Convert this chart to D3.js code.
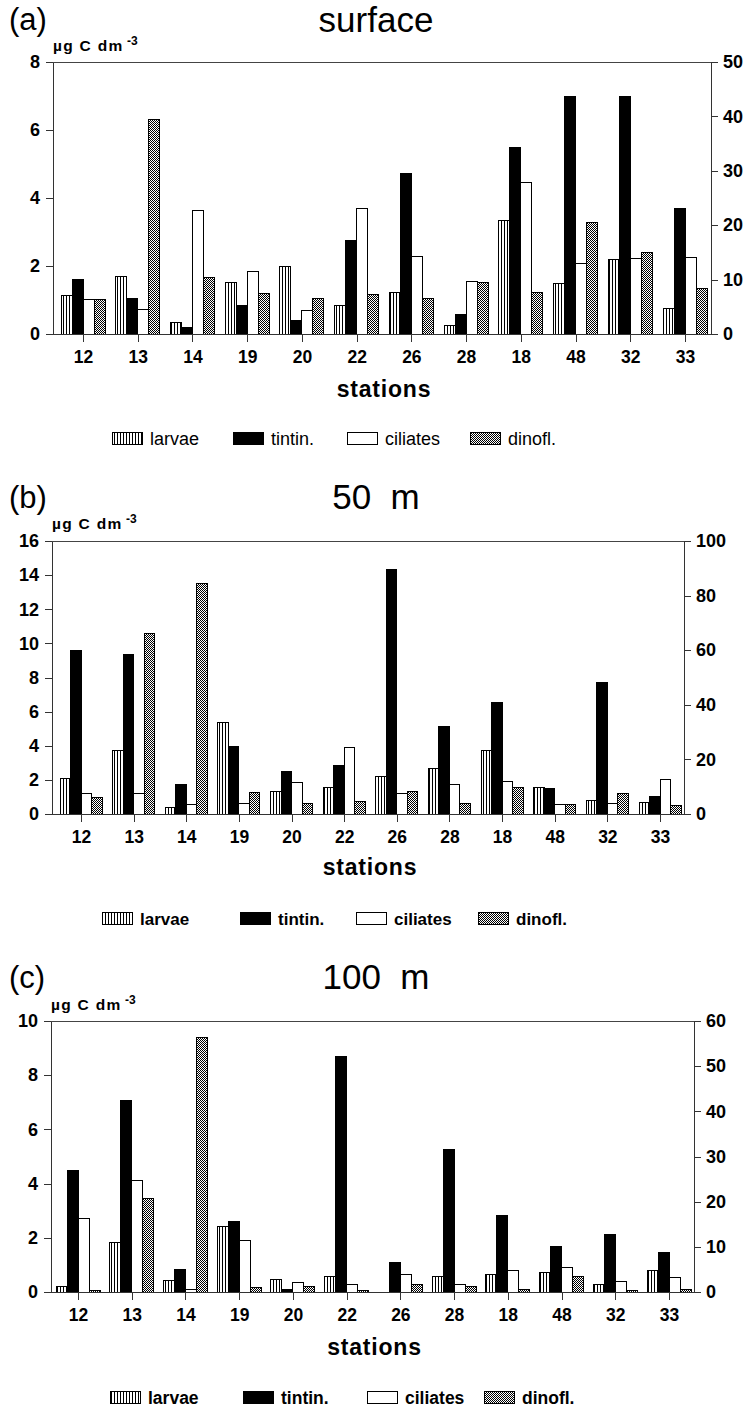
<!DOCTYPE html>
<html><head><meta charset="utf-8">
<script src="https://cdn.jsdelivr.net/npm/d3@7"></script>
<style>
body{margin:0;background:#fff}
svg{display:block}
text{font-family:"Liberation Sans",Arial,Helvetica,sans-serif;fill:#000}
</style>
</head><body>
<svg id="chart" width="754" height="1414"></svg>
<script>
// ---------- data ----------
const stations = ["12","13","14","19","20","22","26","28","18","48","32","33"];
const seriesNames = ["larvae","tintin.","ciliates","dinofl."];

// surface (larvae, ciliates, dinofl. on left axis; tintinnids on right axis)
const surfLarvae   = [1.12,1.69,0.35,1.51,1.99,0.85,1.21,0.25,3.34,1.50,2.19,0.75];
const surfTintin   = [10.0,6.5,1.25,5.25,2.56,17.2,29.5,3.6,34.2,43.6,43.75,23.0];
const surfCiliates = [1.01,0.71,3.63,1.83,0.69,3.70,2.27,1.53,4.47,2.07,2.22,2.24];
const surfDinofl   = [1.01,6.31,1.67,1.18,1.03,1.15,1.04,1.51,1.22,3.27,2.39,1.33];
const surfLeftTicks  = [0,2,4,6,8];
const surfRightTicks = [0,10,20,30,40,50];

// 50 m
const m50Larvae   = [2.07,3.73,0.37,5.39,1.31,1.58,2.17,2.64,3.71,1.58,0.80,0.66];
const m50Tintin   = [59.9,58.6,10.7,24.9,15.6,17.8,89.5,32.0,41.0,9.2,48.2,6.5];
const m50Ciliates = [1.19,1.23,0.55,0.60,1.84,3.91,1.23,1.72,1.93,0.55,0.63,2.03];
const m50Dinofl   = [0.94,10.57,13.5,1.25,0.64,0.76,1.33,0.61,1.54,0.57,1.23,0.47];
const m50LeftTicks  = [0,2,4,6,8,10,12,14,16];
const m50RightTicks = [0,20,40,60,80,100];

// 100 m
const m100Larvae   = [0.20,1.84,0.44,2.43,0.47,0.58,0,0.58,0.66,0.71,0.28,0.80];
const m100Tintin   = [26.9,42.5,4.9,15.5,0.5,52.2,6.6,31.6,16.9,10.0,12.7,8.7];
const m100Ciliates = [2.71,4.11,0.10,1.91,0.34,0.29,0.66,0.29,0.81,0.90,0.38,0.53];
const m100Dinofl   = [0.07,3.45,9.39,0.17,0.22,0.04,0.28,0.20,0.09,0.56,0.05,0.09];
const m100LeftTicks  = [0,2,4,6,8,10];
const m100RightTicks = [0,10,20,30,40,50,60];

// ---------- layout ----------
const panels = [
  {tag:"(a)", title:"surface", data:[surfLarvae,surfTintin,surfCiliates,surfDinofl],
   lt:surfLeftTicks, rt:surfRightTicks,
   L:53,R:711,T:62,B:334,c0:83,c1:685,bw:11,
   tagY:30,titleY:32,unitY:51,statY:397,legY:438,legX:[112,233,347,470],legW:"normal",legF:18},
  {tag:"(b)", title:"50  m", data:[m50Larvae,m50Tintin,m50Ciliates,m50Dinofl],
   lt:m50LeftTicks, rt:m50RightTicks,
   L:52,R:684,T:541,B:814,c0:81,c1:660,bw:10.5,
   tagY:508,titleY:509,unitY:529,statY:875,legY:918,legX:[102,240,356,478],legW:"bold",legF:17},
  {tag:"(c)", title:"100  m", data:[m100Larvae,m100Tintin,m100Ciliates,m100Dinofl],
   lt:m100LeftTicks, rt:m100RightTicks,
   L:51,R:694,T:1021,B:1292,c0:78,c1:669,bw:11,
   tagY:988,titleY:989,unitY:1010,statY:1355,legY:1397,legX:[110,243,367,484],legW:"bold",legF:17.5}
];

const svg = d3.select("#chart");
const defs = svg.append("defs");
const ps = defs.append("pattern").attr("id","stripes").attr("patternUnits","userSpaceOnUse")
  .attr("width",3).attr("height",10);
ps.append("rect").attr("width",3).attr("height",10).attr("fill","#fff");
ps.append("rect").attr("width",1).attr("height",10).attr("fill","#000");
const pc = defs.append("pattern").attr("id","checker").attr("patternUnits","userSpaceOnUse")
  .attr("width",2).attr("height",2);
pc.append("rect").attr("width",2).attr("height",2).attr("fill","#fff");
pc.append("rect").attr("width",1).attr("height",1).attr("fill","#000");
pc.append("rect").attr("x",1).attr("y",1).attr("width",1).attr("height",1).attr("fill","#000");

const fills = ["url(#stripes)","#000","#fff","url(#checker)"];

panels.forEach(p => {
  const g = svg.append("g");
  const x = d3.scalePoint().domain(stations).range([p.c0,p.c1]);
  const yL = d3.scaleLinear().domain([0,d3.max(p.lt)]).range([p.B,p.T]);
  const yR = d3.scaleLinear().domain([0,d3.max(p.rt)]).range([p.B,p.T]);

  // bars
  p.data.forEach((vals,j) => {
    const y = j===1 ? yR : yL;
    g.append("g").selectAll("rect").data(vals).join("rect")
      .attr("x",(d,i)=>x(stations[i]) + (j-2)*p.bw)
      .attr("width",p.bw)
      .attr("y",d=>y(d))
      .attr("height",d=>p.B - y(d))
      .attr("fill",fills[j])
      .attr("stroke","#000").attr("stroke-width",d=>d>0?1:0)
      .attr("shape-rendering","crispEdges");
  });

  // frame top line
  g.append("line").attr("x1",p.L).attr("x2",p.R).attr("y1",p.T).attr("y2",p.T)
    .attr("stroke","#444").attr("shape-rendering","crispEdges");

  const fmt = d3.format("d");
  const la = g.append("g").attr("transform",`translate(${p.L},0)`)
    .call(d3.axisLeft(yL).tickValues(p.lt).tickSizeInner(7).tickSizeOuter(0).tickPadding(6).tickFormat(fmt));
  const ra = g.append("g").attr("transform",`translate(${p.R},0)`)
    .call(d3.axisRight(yR).tickValues(p.rt).tickSizeInner(7).tickSizeOuter(0).tickPadding(5).tickFormat(fmt));
  const ba = g.append("g").attr("transform",`translate(0,${p.B})`)
    .call(d3.axisBottom(x).tickSizeInner(8).tickSizeOuter(0).tickPadding(9));
  ba.select(".domain").attr("d",`M${p.L},0H${p.R}`);
  [la,ra,ba].forEach(a=>{
    a.selectAll("path,line").attr("stroke","#333").attr("shape-rendering","crispEdges");
    a.selectAll("text").attr("font-size",18).attr("font-weight","bold")
      .attr("font-family","'Liberation Sans',Arial,sans-serif").attr("fill","#000");
  });
  ba.selectAll("text").attr("font-size",17.5);

  // labels
  g.append("text").attr("x",9).attr("y",p.tagY).attr("font-size",31).text(p.tag);
  g.append("text").attr("x",376).attr("y",p.titleY).attr("text-anchor","middle")
    .attr("font-size",35).style("white-space","pre").text(p.title);
  const u = g.append("text").attr("x",p.L).attr("y",p.unitY).attr("font-size",15.5).attr("font-weight","bold")
    .attr("letter-spacing",1.3).style("white-space","pre");
  u.append("tspan").text("µg C dm");
  u.append("tspan").attr("dy",-6).attr("font-size",12).attr("letter-spacing",0).text(" -3");
  g.append("text").attr("x",(p.L+p.R)/2 + 2).attr("y",p.statY).attr("text-anchor","middle")
    .attr("font-size",23).attr("font-weight","bold").attr("letter-spacing",0.8).text("stations");

  // legend
  seriesNames.forEach((s,j)=>{
    const lx = p.legX[j];
    g.append("rect").attr("x",lx).attr("y",p.legY-6).attr("width",30).attr("height",12)
      .attr("fill",fills[j]).attr("stroke","#000").attr("stroke-width",1).attr("shape-rendering","crispEdges");
    g.append("text").attr("x",lx+38).attr("y",p.legY+6.5).attr("font-size",p.legF)
      .attr("font-weight",p.legW).text(s);
  });
});
</script>
</body></html>
